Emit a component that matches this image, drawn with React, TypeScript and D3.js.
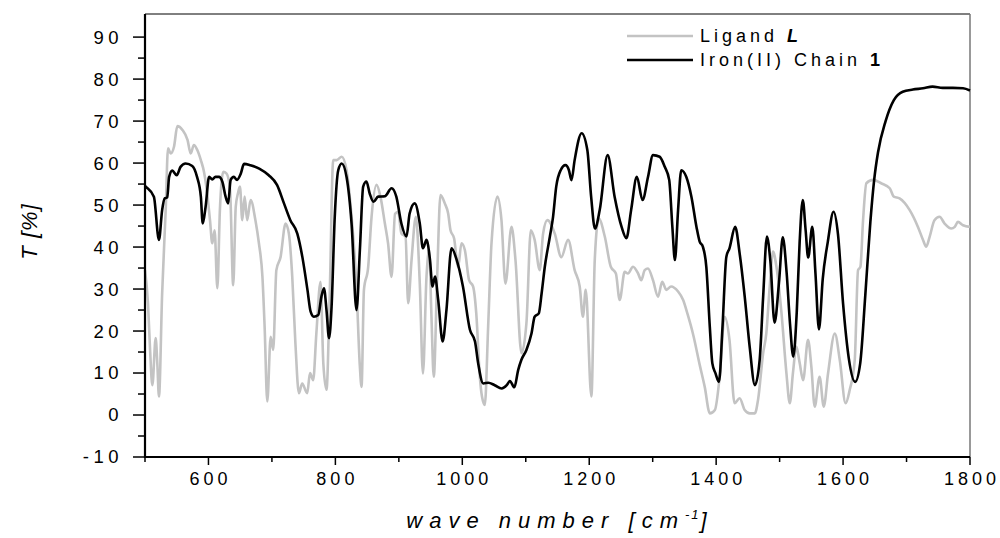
import React, { useEffect, useRef } from "react";
import * as d3 from "d3";

// wavenumbers (cm-1) and transmittance (%)
const ligandWave = [500, 504.7, 508, 511.6, 516.8, 519.4, 522, 527, 532.6, 536.3, 540.5, 545.7, 551, 559, 567, 572, 577, 582.4, 588, 593, 598, 602.4, 606, 609.7, 614, 618, 623.4, 628.6, 634, 639, 643, 646.5, 649.6, 653.3, 657, 661, 666.4, 674, 679.5, 685, 688.5, 692.7, 698, 702, 707, 713.6, 721.5, 726.7, 732, 737, 742.5, 747.7, 755.6, 760, 765, 770, 776.6, 781, 786, 791, 796.6, 802, 810, 817.6, 825.5, 833, 838.6, 841.2, 845, 851.7, 857, 864.8, 871, 878, 883, 888.5, 894, 899, 904, 910.5, 914.7, 920, 926.8, 933, 938, 943.6, 947.8, 951.4, 955, 960.4, 965.6, 972.4, 977.7, 981.4, 987, 993.4, 998.7, 1004, 1010.7, 1017, 1022, 1027.6, 1031, 1035.5, 1040.7, 1046, 1055.4, 1061.7, 1068, 1077.5, 1083.8, 1093.2, 1101, 1108, 1114, 1122, 1127.3, 1134, 1145.7, 1156, 1166.7, 1177, 1185, 1190, 1194.5, 1203.4, 1208.7, 1215, 1224.5, 1234, 1242, 1248, 1255.9, 1261, 1269, 1277, 1282, 1287.4, 1292.6, 1300.5, 1308.4, 1315, 1321.5, 1329, 1340, 1348, 1355, 1364, 1374, 1382, 1390, 1398, 1405.5, 1413.4, 1421, 1429, 1437, 1445, 1453, 1461, 1466, 1474, 1479, 1484.4, 1489.6, 1495, 1503, 1510.7, 1516, 1521, 1526.4, 1531.7, 1537, 1544.8, 1550, 1555.3, 1563, 1569.5, 1576.4, 1587, 1594.8, 1604, 1610.5, 1618.4, 1623.6, 1627.3, 1631.5, 1636.7, 1647, 1660, 1673.5, 1680, 1689, 1705, 1718, 1726, 1731, 1736.5, 1744, 1752, 1760, 1770.6, 1776, 1781, 1789, 1800];
const ligandT = [34.5, 26.6, 15.5, 7.1, 18.3, 12.3, 4.4, 28.9, 48.8, 63.5, 62.3, 63.9, 68.8, 67.9, 65.5, 62.3, 64.3, 63.1, 60.7, 57.9, 52.8, 46.4, 40.9, 44, 30.2, 48.8, 57.9, 57.5, 53.7, 30.9, 49.6, 52.8, 54.4, 46.4, 52, 46.4, 51.2, 46.4, 40.9, 33, 21, 3.2, 18.6, 15.5, 34.5, 37.6, 45.6, 43.2, 33, 17.1, 5.2, 7.5, 5.2, 10, 8.3, 19.4, 31.7, 12.3, 6, 28.2, 60.7, 60.7, 61.5, 58.3, 47.2, 31.3, 11.5, 6.7, 29.8, 35.3, 47.2, 54.8, 52, 45.6, 40.9, 32.9, 47.9, 48.4, 43.2, 42.5, 26.6, 36.9, 47.2, 31.3, 9.9, 33, 39.3, 23.4, 9.1, 33, 52.4, 50.4, 48, 44, 42.1, 35.3, 40.9, 39.3, 32.1, 30.6, 24.2, 9.1, 4.4, 2.4, 21, 40.9, 52, 46.4, 31.3, 44.8, 36.9, 14.7, 21.8, 44, 41.7, 34.5, 43.2, 46.4, 43.2, 37.6, 41.7, 34.5, 30.6, 23.4, 29.8, 4.4, 36.9, 46.8, 42.5, 35.3, 33.7, 27.4, 34.1, 33.7, 35.3, 33.7, 32.1, 34.5, 34.9, 32.1, 28.2, 31.7, 29.8, 30.6, 29.4, 27.4, 24, 19, 12, 6.7, 0.4, 1.2, 9.1, 23.4, 17.9, 2.8, 4, 1.2, 0.4, 0.4, 3.6, 14.7, 19.4, 30.6, 38.9, 35.3, 24.2, 10, 2.8, 10, 16.3, 12.3, 8.3, 17.9, 11.5, 2, 9.1, 2, 10, 19.4, 13.1, 2.8, 6, 13.1, 34.5, 35.3, 46.4, 55.2, 56, 55.2, 54, 52, 51.6, 48.8, 44.8, 41.7, 40.1, 42.5, 46.4, 47.2, 45.6, 44.4, 44.8, 46, 45.2, 44.8];

const chainWave = [500, 502.6, 514, 522, 527, 531, 535, 538, 543, 550, 556, 564, 574.5, 582, 588, 591, 595.5, 601, 606, 611, 616.5, 622, 627, 631, 635, 640, 645, 651, 656, 666, 680, 695, 708, 719, 729, 740, 748, 756, 761, 766, 773, 778, 782, 786, 790, 794, 799, 804.5, 810, 817.6, 825.5, 833.3, 838.6, 843.8, 849, 854, 860, 867.5, 878, 888.5, 896, 904, 912, 917, 925, 933, 938, 943.6, 949, 953, 957, 962, 969, 975, 983, 991, 1001, 1012, 1020, 1025, 1033, 1041, 1051, 1062, 1070, 1075, 1082, 1088, 1093, 1101, 1109, 1114, 1120.5, 1125, 1130, 1138, 1143, 1148, 1155, 1162.5, 1168, 1172, 1177, 1188, 1197, 1203, 1209, 1216.5, 1229, 1240, 1251, 1258.6, 1266, 1275, 1284, 1292.6, 1300.5, 1311, 1319, 1326, 1331, 1335, 1340, 1345, 1353, 1361, 1369, 1374, 1379, 1384.5, 1390, 1394, 1399, 1404.5, 1410, 1416, 1421, 1430, 1437, 1445, 1453, 1461, 1468.5, 1474, 1480, 1485.5, 1492, 1499, 1505, 1511, 1516.5, 1521.5, 1527, 1531.5, 1536.5, 1541, 1545, 1551.5, 1556.5, 1562, 1568, 1576, 1585, 1592, 1600, 1609, 1619, 1627, 1635, 1643, 1649, 1655, 1667, 1680, 1694, 1710, 1726, 1741, 1757, 1773, 1789, 1800];
const chainT = [54.5, 54.2, 52, 41.7, 48.8, 51.6, 51.8, 56.7, 58.2, 57.1, 59.1, 59.9, 59.3, 56.7, 52, 45.6, 49.6, 56.7, 56.1, 56.7, 56.7, 55.5, 52, 50.4, 56, 56.7, 56, 57.5, 59.8, 59.5, 58.7, 57.1, 54.8, 50.4, 46.4, 43.2, 37.6, 29.8, 24.6, 23.4, 23.8, 28.2, 30.2, 25, 18.3, 25.8, 47.2, 58.3, 59.9, 56.7, 45.6, 25, 39.3, 54.4, 55.6, 52.8, 50.8, 52, 52.1, 54, 52, 45.6, 42.5, 48, 50.4, 45.6, 39.7, 41.7, 37, 30.6, 33, 27.4, 17.5, 25, 39.7, 37, 30.6, 20.3, 17.5, 12.3, 7.5, 7.7, 7.1, 6.3, 7.1, 8.1, 6.6, 10.7, 13.1, 15.5, 19.4, 23.4, 24.2, 29, 35.3, 42.5, 47.2, 54.4, 58.3, 59.5, 58.3, 55.9, 60.7, 67.1, 63.1, 52, 44.4, 48.8, 61.9, 52, 44.8, 42.1, 48.8, 56.7, 51.2, 56.7, 61.9, 61.5, 59.1, 56, 44.8, 36.9, 48.8, 58.3, 56.7, 52, 44.8, 41.3, 40.1, 35.3, 21, 12.3, 9.9, 7.9, 21, 37.6, 39.7, 44.8, 38.5, 28.2, 16, 7.1, 13, 28, 42.5, 36.5, 22, 31.5, 42.3, 34, 21.5, 13.9, 24.5, 41, 51.2, 44, 37.5, 44.8, 33.7, 20.4, 32.5, 41.3, 48.4, 43, 26.5, 13.5, 7.9, 12.3, 28.5, 46, 56, 62.5, 70, 75, 77, 77.5, 77.8, 78.2, 77.9, 77.9, 77.8, 77.3];

const yTicks = [-10, 0, 10, 20, 30, 40, 50, 60, 70, 80, 90];
const xTicks = [600, 800, 1000, 1200, 1400, 1600, 1800];

const W = 1000;
const H = 538;
const FONT = "'Liberation Sans', Arial, sans-serif";

export default function App() {
  const ref = useRef<SVGSVGElement>(null);

  useEffect(() => {
    const svg = d3.select(ref.current);
    svg.selectAll("*").remove();

    const m = { left: 145, right: 970, top: 14, bottom: 457 };
    const x = d3.scaleLinear().domain([500, 1800]).range([m.left, m.right]);
    const y = d3.scaleLinear().domain([-10, 95.5]).range([m.bottom, m.top]);

    // frame: top and right are thin
    svg.append("line").attr("x1", m.left).attr("x2", m.right).attr("y1", m.top).attr("y2", m.top)
      .attr("stroke", "#000").attr("stroke-width", 1);
    svg.append("line").attr("x1", m.right).attr("x2", m.right).attr("y1", m.top).attr("y2", m.bottom)
      .attr("stroke", "#777").attr("stroke-width", 1.5);

    const line = d3.line<[number, number]>()
      .x((d) => x(d[0]))
      .y((d) => y(d[1]))
      .curve(d3.curveMonotoneX);

    const plot = svg.append("g");
    plot.append("path")
      .datum(ligandWave.map((w, i) => [w, ligandT[i]] as [number, number]))
      .attr("d", line)
      .attr("fill", "none")
      .attr("stroke", "#c3c3c3")
      .attr("stroke-width", 2.6)
      .attr("stroke-linejoin", "round");
    plot.append("path")
      .datum(chainWave.map((w, i) => [w, chainT[i]] as [number, number]))
      .attr("d", line)
      .attr("fill", "none")
      .attr("stroke", "#000")
      .attr("stroke-width", 2.6)
      .attr("stroke-linejoin", "round");

    // y axis
    const ya = svg.append("g");
    ya.append("line").attr("x1", m.left).attr("x2", m.left).attr("y1", m.top).attr("y2", m.bottom + 1)
      .attr("stroke", "#000").attr("stroke-width", 2.2);
    d3.range(-10, 95, 5).forEach((v) => {
      const major = v % 10 === 0;
      ya.append("line").attr("x1", m.left).attr("x2", m.left - (major ? 12 : 7))
        .attr("y1", y(v)).attr("y2", y(v)).attr("stroke", "#000").attr("stroke-width", 1.5);
    });
    yTicks.forEach((v) => {
      ya.append("text").attr("x", 123).attr("y", y(v)).attr("dy", "0.35em")
        .attr("text-anchor", "end").attr("font-family", FONT).attr("font-size", 18.5)
        .attr("letter-spacing", 4.5).text(String(v));
    });

    // x axis
    const xa = svg.append("g");
    xa.append("line").attr("x1", m.left - 1).attr("x2", m.right).attr("y1", m.bottom).attr("y2", m.bottom)
      .attr("stroke", "#000").attr("stroke-width", 2.2);
    d3.range(500, 1801, 100).forEach((v) => {
      const major = v % 200 === 0;
      xa.append("line").attr("x1", x(v)).attr("x2", x(v))
        .attr("y1", m.bottom).attr("y2", m.bottom + (major ? 8 : 5))
        .attr("stroke", "#000").attr("stroke-width", 1.5);
    });
    xTicks.forEach((v) => {
      xa.append("text").attr("x", x(v) + 2).attr("y", 485)
        .attr("text-anchor", "middle").attr("font-family", FONT).attr("font-size", 18)
        .attr("letter-spacing", 4).text(String(v));
    });

    // axis titles
    const xt = svg.append("text").attr("x", 560).attr("y", 528).attr("text-anchor", "middle")
      .attr("font-family", FONT).attr("font-size", 22).attr("font-style", "italic")
      .attr("letter-spacing", 7);
    xt.append("tspan").text("wave number [cm");
    xt.append("tspan").attr("dy", -9).attr("font-size", 13).attr("letter-spacing", 2).text("-1");
    xt.append("tspan").attr("dy", 9).text("]");

    svg.append("text").attr("transform", `translate(37,${(m.top + m.bottom) / 2 - 4}) rotate(-90)`)
      .attr("text-anchor", "middle").attr("font-family", FONT).attr("font-size", 22)
      .attr("font-style", "italic").attr("letter-spacing", 1).text("T [%]");

    // legend
    const lg = svg.append("g").attr("font-family", FONT).attr("font-size", 18).attr("letter-spacing", 4);
    lg.append("line").attr("x1", 627).attr("x2", 693).attr("y1", 36).attr("y2", 36)
      .attr("stroke", "#c3c3c3").attr("stroke-width", 2.6);
    const t1 = lg.append("text").attr("x", 700).attr("y", 42);
    t1.append("tspan").text("Ligand ");
    t1.append("tspan").attr("font-weight", "bold").attr("font-style", "italic").text("L");
    lg.append("line").attr("x1", 627).attr("x2", 693).attr("y1", 60).attr("y2", 60)
      .attr("stroke", "#000").attr("stroke-width", 2.6);
    const t2 = lg.append("text").attr("x", 700).attr("y", 66);
    t2.append("tspan").text("Iron(II) Chain ");
    t2.append("tspan").attr("font-weight", "bold").text("1");
  }, []);

  return (
    <svg
      ref={ref}
      width={W}
      height={H}
      style={{ position: "fixed", left: 0, top: 0, background: "#fff" }}
    />
  );
}
